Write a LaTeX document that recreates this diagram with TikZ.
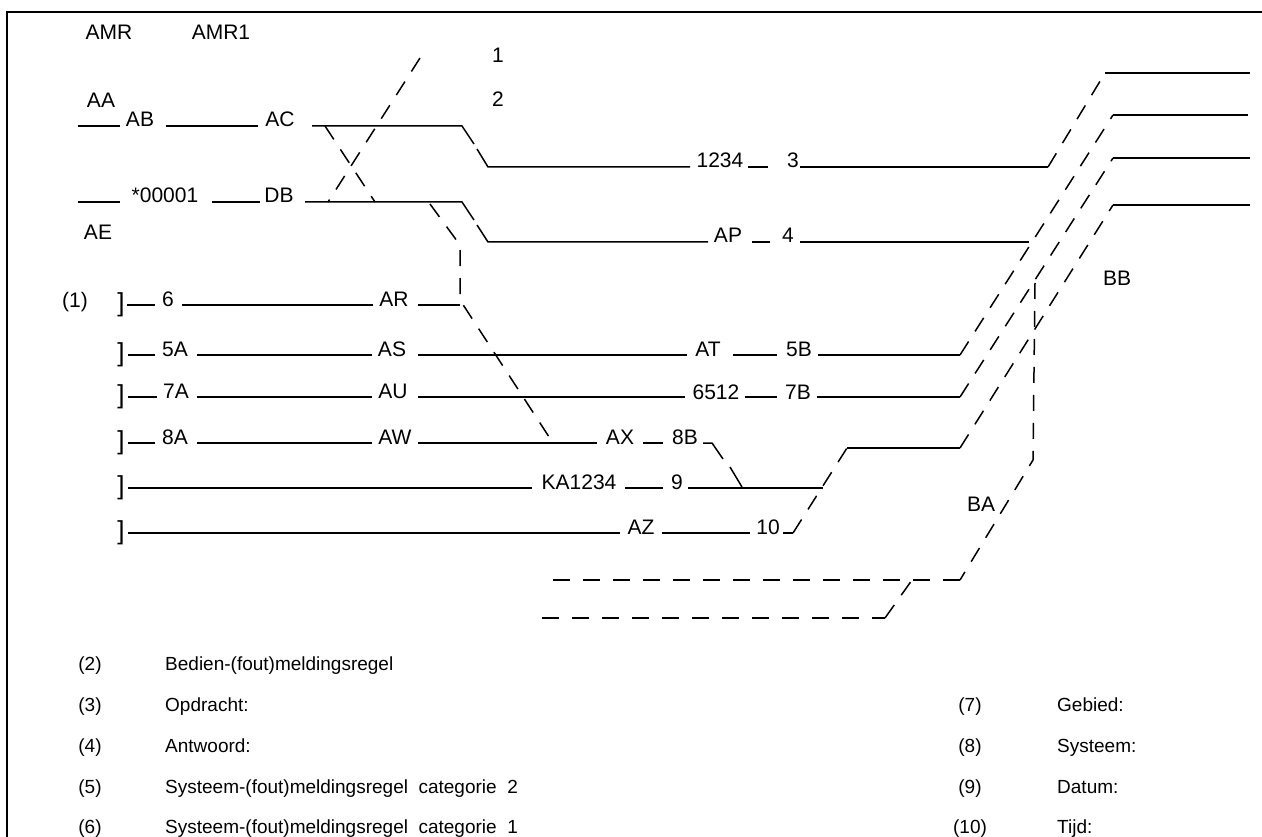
\documentclass[tikz,border=0pt]{standalone}
\usepackage{fontspec}
\setmainfont{Liberation Sans}
\begin{document}
\begin{tikzpicture}[x=1pt,y=-1pt,
  lbl/.style={font=\fontsize{21}{23}\selectfont, inner sep=0pt, anchor=base},
  brk/.style={font=\fontsize{26}{28}\selectfont, inner sep=0pt, anchor=center},
  leg/.style={font=\fontsize{19}{21}\selectfont, inner sep=0pt, anchor=base west},
  ln/.style={line width=1.5pt},
  dsh/.style={line width=1.5pt, dash pattern=on 16pt off 12pt},
  hdsh/.style={line width=1.5pt, dash pattern=on 17pt off 13pt}]
\useasboundingbox (0,0) rectangle (1262,837);
% frame
\draw[line width=1.2pt] (7,837) -- (7,12) -- (1262,12);
% header texts
\node[lbl] (amr) at (109,40) {AMR};
\node[lbl] (amr1) at (221,40) {AMR1};
\node[lbl] (n1) at (498,63) {1};
\node[lbl] (n2) at (498,107) {2};
\node[lbl] (aa) at (101,108) {AA};
\node[lbl] (ae) at (98,240) {AE};
% row AC
\node[lbl] (ab) at (140,127) {AB};
\node[lbl] (ac) at (280,127) {AC};
\node[lbl] (t1234) at (720,168) {1234};
\node[lbl] (t3) at (793,168) {3};
\draw[ln] (78,126) -- (120,126);
\draw[ln] (166,126) -- (258,126);
\draw[ln] (312,126) -- (462,126) -- (474,144);
\draw[ln] (477,149) -- (488,167) -- (690,167);
\draw[ln] (748,167) -- (768,167);
\draw[ln] (800,167) -- (1048,167);
\draw[ln] (1105,73) -- (1250,73);
% row DB
\node[lbl] (s00001) at (165,203) {*00001};
\node[lbl] (db) at (279,203) {DB};
\node[lbl] (ap) at (728,243) {AP};
\node[lbl] (t4) at (788,243) {4};
\draw[ln] (78,202) -- (120,202);
\draw[ln] (212,202) -- (260,202);
\draw[ln] (305,202) -- (462,202) -- (474,220);
\draw[ln] (477,225) -- (488,242) -- (708,242);
\draw[ln] (752,242) -- (770,242);
\draw[ln] (800,242) -- (1029,242);
\draw[ln] (1113,115) -- (1248,115);
\draw[ln] (1113,158) -- (1250,158);
\draw[ln] (1113,205) -- (1250,205);
% crossing dashed lines
\draw[dsh] (420,58) -- (328,202);
\draw[dsh] (325,126) -- (375,202);
\draw[dsh] (430,204) -- (460,245) -- (460,300) -- (553,443);
% (1) and brackets
\node[lbl,anchor=center] (p1) at (75,302) {(1)};
\foreach \r/\y in {a/305,b/355,c/397,d/443,e/488,f/533}
  \node[brk] (br\r) at (121,\y) {]};
% row AR
\node[lbl] (t6) at (168,306) {6};
\node[lbl] (ar) at (394,306) {AR};
\draw[ln] (127,305) -- (155,305);
\draw[ln] (182,305) -- (373,305);
\draw[ln] (418,305) -- (460,305);
% row 5A
\node[lbl] (t5a) at (175,356) {5A};
\node[lbl] (as) at (392,356) {AS};
\node[lbl] (at) at (708,356) {AT};
\node[lbl] (t5b) at (799,356) {5B};
\draw[ln] (128,355) -- (155,355);
\draw[ln] (197,355) -- (372,355);
\draw[ln] (418,355) -- (687,355);
\draw[ln] (733,355) -- (777,355);
\draw[ln] (818,355) -- (960,355);
% row 7A
\node[lbl] (t7a) at (176,398) {7A};
\node[lbl] (au) at (393,398) {AU};
\node[lbl] (t6512) at (716,399) {6512};
\node[lbl] (t7b) at (798,399) {7B};
\draw[ln] (128,397) -- (157,397);
\draw[ln] (197,397) -- (372,397);
\draw[ln] (418,397) -- (685,397);
\draw[ln] (745,397) -- (777,397);
\draw[ln] (817,397) -- (960,397);
% row 8A
\node[lbl] (t8a) at (175,444) {8A};
\node[lbl] (aw) at (395,444) {AW};
\node[lbl] (ax) at (620,444) {AX};
\node[lbl] (t8b) at (685,444) {8B};
\draw[ln] (128,443) -- (155,443);
\draw[ln] (197,443) -- (372,443);
\draw[ln] (418,443) -- (597,443);
\draw[ln] (643,443) -- (663,443);
\draw[ln] (703,443) -- (712,443) -- (723,459);
\draw[ln] (730,467) -- (742,487);
% row 9
\node[lbl] (ka) at (579,489) {KA1234};
\node[lbl] (t9) at (677,489) {9};
\draw[ln] (128,488) -- (532,488);
\draw[ln] (625,488) -- (663,488);
\draw[ln] (688,488) -- (823,488);
% row 10
\node[lbl] (az) at (641,534) {AZ};
\node[lbl] (t10) at (768,534) {10};
\draw[ln] (128,533) -- (620,533);
\draw[ln] (662,533) -- (750,533);
\draw[ln] (783,533) -- (793,533);
\draw[ln] (847,448) -- (960,448);
% right dashed diagonals
\draw[dsh] (1048,167) -- (1105,73);
\draw[dsh] (960,355) -- (1113,115);
\draw[dsh] (960,397) -- (1113,158);
\draw[dsh] (793,533) -- (847,448);
\draw[dsh] (960,448) -- (1113,205);
\draw[dsh] (1035,283) -- (1033,460) -- (960,580);
\draw[hdsh] (960,580) -- (542,580);
\draw[hdsh] (542,618) -- (885,618);
\draw[dsh] (885,618) -- (912,580);
\node[lbl] (bb) at (1117,286) {BB};
\node[lbl] (ba) at (981,511) {BA};
% legend
\node[leg,anchor=base] (l2) at (90,670) {(2)};
\node[leg] (l2t) at (165,670) {Bedien-(fout)meldingsregel};
\node[leg,anchor=base] (l3) at (90,711) {(3)};
\node[leg] (l3t) at (165,711) {Opdracht:};
\node[leg,anchor=base] (l4) at (90,752) {(4)};
\node[leg] (l4t) at (165,752) {Antwoord:};
\node[leg,anchor=base] (l5) at (90,793) {(5)};
\node[leg] (l5t) at (165,793) {Systeem-(fout)meldingsregel\ \ categorie\ \ 2};
\node[leg,anchor=base] (l6) at (90,833) {(6)};
\node[leg] (l6t) at (165,833) {Systeem-(fout)meldingsregel\ \ categorie\ \ 1};
\node[leg,anchor=base] (l7) at (970,711) {(7)};
\node[leg] (l7t) at (1057,711) {Gebied:};
\node[leg,anchor=base] (l8) at (970,752) {(8)};
\node[leg] (l8t) at (1057,752) {Systeem:};
\node[leg,anchor=base] (l9) at (970,793) {(9)};
\node[leg] (l9t) at (1057,793) {Datum:};
\node[leg,anchor=base] (l10) at (970,833) {(10)};
\node[leg] (l10t) at (1057,833) {Tijd:};
\end{tikzpicture}
\end{document}
